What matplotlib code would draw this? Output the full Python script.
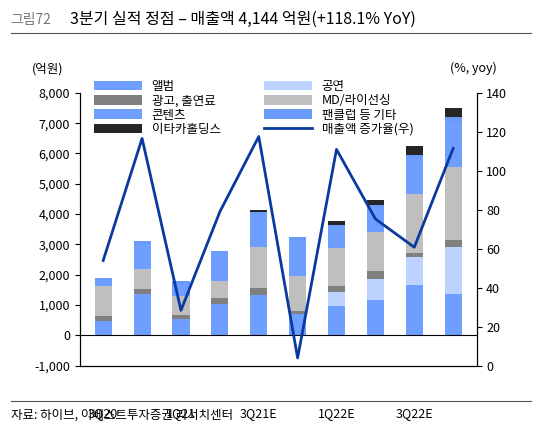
import matplotlib
matplotlib.use("Agg")
import matplotlib.pyplot as plt
import numpy as np

plt.rcParams['font.family'] = ['Noto Sans CJK KR', 'DejaVu Sans']

quarters = ['3Q20','4Q20','1Q21','2Q21','3Q21E','4Q21E','1Q22E','2Q22E','3Q22E','4Q22E']
tick_labels = ['3Q20','','1Q21','','3Q21E','','1Q22E','','3Q22E','']
album    = [470, 1380, 550, 1050, 1340, 690, 960, 1160, 1650, 1350]
concert  = [0, 0, 0, 0, 0, 0, 460, 690, 940, 1550]
ads      = [160, 150, 110, 200, 240, 130, 200, 290, 140, 260]
md       = [990, 670, 640, 530, 1320, 1130, 1250, 1260, 1920, 2380]
contents = [200, 800, 400, 900, 1100, 1200, 700, 850, 1200, 1500]
fanclub  = [60, 110, 80, 90, 70, 110, 70, 60, 110, 150]
ithaca   = [0, 0, 0, 0, 50, 0, 120, 140, 280, 310]
growth   = [54, 116.6, 28.4, 79, 117.6, 4, 111, 75.3, 60.8, 111.5]

fig = plt.figure(figsize=(5.36, 4.38), dpi=100)
ax = fig.add_axes([0.149, 0.165, 0.74, 0.623])
x = np.arange(len(quarters))
series = [('앨범', album, '#6e9eff'), ('공연', concert, '#bcd2ff'),
          ('광고, 출연료', ads, '#808080'), ('MD/라이선싱', md, '#bfbfbf'),
          ('콘텐츠', contents, '#6e9eff'), ('팬클럽 등 기타', fanclub, '#6a9bfa'),
          ('이타카홀딩스', ithaca, '#262626')]
bottom = np.zeros(len(x))
handles = {}
for name, vals, c in series:
    h = ax.bar(x, vals, 0.44, bottom=bottom, color=c, label=name)
    handles[name] = h
    bottom += np.array(vals)
ax.set_ylim(-1000, 8000)
ax.set_yticks(range(-1000, 8001, 1000))
ax.set_yticklabels([f'{v:,}' for v in range(-1000, 8001, 1000)], fontsize=9)
ax.axhline(0, color='black', lw=0.8)
ax.set_xlim(-0.6, 9.6)
ax.set_xticks(x)
ax.set_xticklabels(tick_labels, fontsize=9)
ax.tick_params(axis='x', length=0, pad=30)
ax.spines['top'].set_visible(False)
ax2 = ax.twinx()
ln, = ax2.plot(x, growth, color='#0a3a9f', lw=2, label='매출액 증가율(우)')
ax2.set_ylim(0, 140)
ax2.set_yticks(range(0, 141, 20))
ax2.tick_params(labelsize=9)
ax2.spines['top'].set_visible(False)
order = ['앨범', '광고, 출연료', '콘텐츠', '이타카홀딩스', '공연', 'MD/라이선싱', '팬클럽 등 기타']
hs = [handles[n] for n in order]
hs = hs + [ln]
ls = order + ['매출액 증가율(우)']
ax.legend(hs, ls, ncol=2, loc='upper left', bbox_to_anchor=(0.02, 1.07), frameon=False,
          fontsize=9, handlelength=3.8, handleheight=0.8, labelspacing=0.1, columnspacing=3.5,
          borderpad=0)
fig.text(0.02, 0.945, '그림72', fontsize=10, color='#777777')
fig.text(0.13, 0.945, '3분기 실적 정점 – 매출액 4,144 억원(+118.1% YoY)', fontsize=11.5)
fig.add_artist(plt.Line2D([0.02, 0.99], [0.925, 0.925], color='#555555', lw=0.8))
fig.text(0.06, 0.835, '(억원)', fontsize=9)
fig.text(0.84, 0.835, '(%, yoy)', fontsize=9)
fig.add_artist(plt.Line2D([0.02, 0.99], [0.085, 0.085], color='#555555', lw=0.8))
fig.text(0.02, 0.045, '자료: 하이브, 이베스트투자증권 리서치센터', fontsize=9)
fig.savefig('out.png', dpi=100)
